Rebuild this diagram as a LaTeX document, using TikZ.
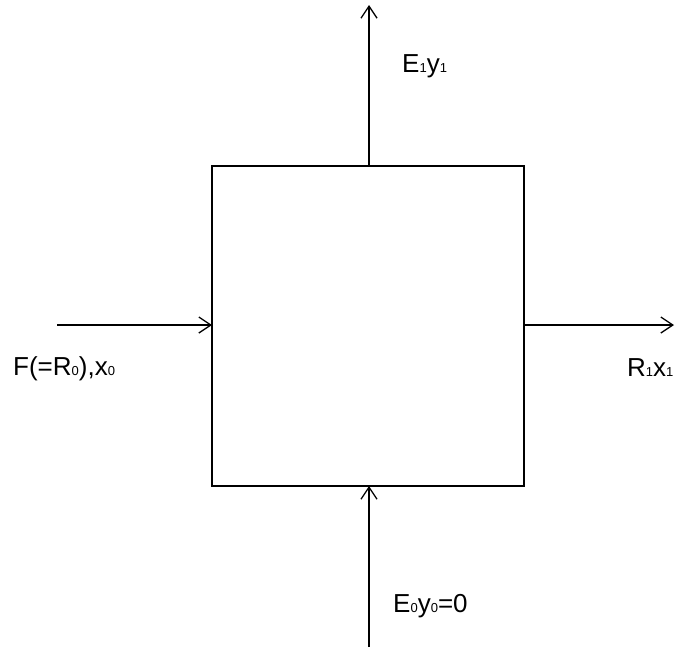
\documentclass[tikz,border=0pt]{standalone}
\usepackage{fontspec}
\setmainfont{Liberation Sans}
\usetikzlibrary{arrows.meta}
\newcommand{\sbs}[1]{{\fontsize{13}{13}\selectfont #1}}
\tikzset{
  flow/.style={draw=black, line width=1.3pt, -{Straight Barb[length=12pt,width=16pt,line width=1.3pt]}},
  lbl/.style={anchor=base west, inner sep=0pt, font=\fontsize{26}{26}\selectfont},
  unitbox/.style={draw=black, line width=1.3pt}
}
\begin{document}
\begin{tikzpicture}[x=1pt,y=-1pt]
\useasboundingbox (0,0) rectangle (675,649);
\draw[unitbox] (212,166) rectangle (524,486);
\coordinate (top) at (369,166);
\coordinate (bot) at (369,486);
\coordinate (lft) at (212,325);
\coordinate (rgt) at (524,325);
\coordinate (topend) at (369,5);
\coordinate (botstart) at (369,647);
\coordinate (lftstart) at (57,325);
\coordinate (rgtend) at (674,325);
\draw[flow] (top) -- (topend);
\draw[flow] (botstart) -- (bot);
\draw[flow] (lftstart) -- (lft);
\draw[flow] (rgt) -- (rgtend);
\node[lbl] (e1) at (402,72) {E\sbs{1}y\sbs{1}};
\node[lbl] (e0) at (393,612) {E\sbs{0}y\sbs{0}=0};
\node[lbl] (f) at (13,375) {F(=R\sbs{0}),x\sbs{0}};
\node[lbl] (r1) at (627,376) {R\sbs{1}x\sbs{1}};
\end{tikzpicture}
\end{document}
